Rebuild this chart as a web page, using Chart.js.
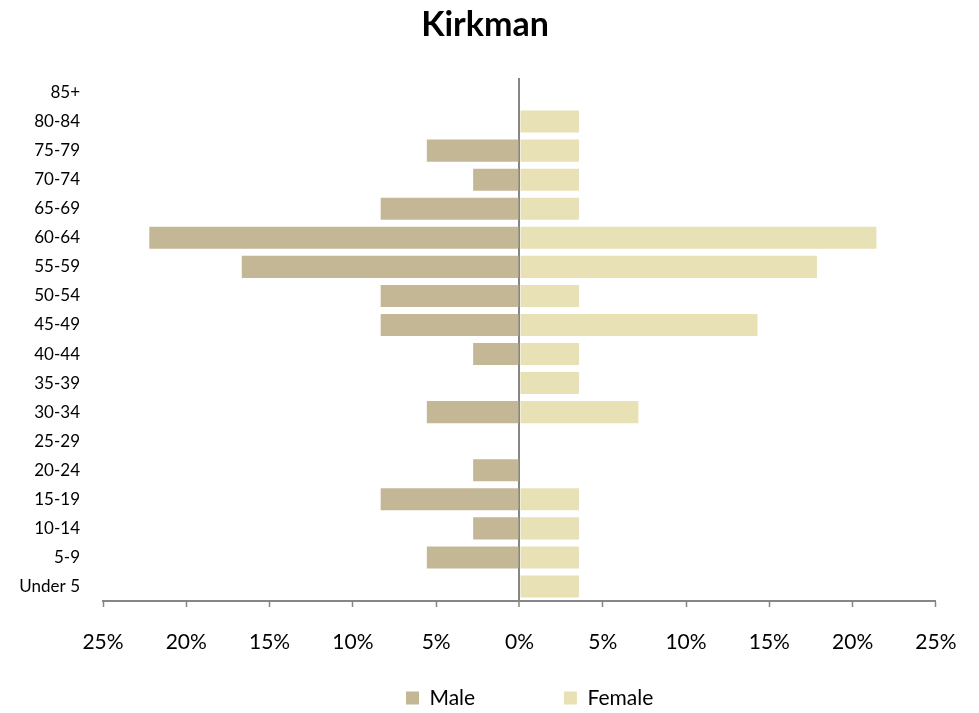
<!DOCTYPE html>
<html>
<head>
<meta charset="utf-8">
<script src="https://cdn.jsdelivr.net/npm/chart.js@4/dist/chart.umd.min.js"></script>
<style>
  html, body { margin: 0; padding: 0; background: #fff; }
  #wrap { width: 979px; height: 713px; }
</style>
</head>
<body>
<div id="wrap"><canvas id="c"></canvas></div>
<script>
const ageGroups = ['85+', '80-84', '75-79', '70-74', '65-69', '60-64', '55-59', '50-54', '45-49', '40-44', '35-39', '30-34', '25-29', '20-24', '15-19', '10-14', '5-9', 'Under 5'];
const malePercent = [0, 0, 5.56, 2.78, 8.33, 22.22, 16.67, 8.33, 8.33, 2.78, 0, 5.56, 0, 2.78, 8.33, 2.78, 5.56, 0];
const femalePercent = [0, 3.57, 3.57, 3.57, 3.57, 21.43, 17.86, 3.57, 14.29, 3.57, 3.57, 7.14, 0, 0, 3.57, 3.57, 3.57, 3.57];
const xTicks = [-25, -20, -15, -10, -5, 0, 5, 10, 15, 20, 25];
const seriesNames = ['Male', 'Female'];
const seriesColors = ['#C4B796', '#E8E1B6'];

const FONT = "Lato, 'Open Sans', sans-serif";

// shift title / legend horizontally to match the reference placement
const placementTweak = {
  id: 'placementTweak',
  afterLayout(chart) {
    const t = chart.titleBlock;
    if (t) { t.left = 0; t.right = 970; t.width = 970; }
    const l = chart.legend;
    if (l) { const w = l.right - l.left; l.left = 396; l.right = 396 + w; }
  }
};

new Chart(document.getElementById('c'), {
  type: 'bar',
  data: {
    labels: ageGroups,
    datasets: [
      { label: seriesNames[0], data: malePercent.map(v => -v), backgroundColor: seriesColors[0], borderWidth: 0 },
      { label: seriesNames[1], data: femalePercent, backgroundColor: seriesColors[1], borderWidth: 0 }
    ]
  },
  plugins: [placementTweak],
  options: {
    indexAxis: 'y',
    responsive: true,
    maintainAspectRatio: false,
    animation: false,
    categoryPercentage: 0.76,
    barPercentage: 1.0,
    layout: { padding: { left: 0, right: 42, top: 0, bottom: -5.5 } },
    plugins: {
      title: {
        display: true,
        text: 'Kirkman',
        color: '#000',
        font: { family: FONT, size: 34, weight: 'bold' },
        padding: { top: 4.6, bottom: 32.6 }
      },
      legend: {
        position: 'bottom',
        align: 'start',
        fullSize: false,
        labels: {
          color: '#000',
          font: { family: FONT, size: 21 },
          boxWidth: 13,
          boxHeight: 13,
          padding: 10,
          generateLabels: (chart) => {
            const items = Chart.defaults.plugins.legend.labels.generateLabels(chart);
            items[0].text = items[0].text + '\u2003\u2003\u2003\u2003\u2003';
            return items;
          }
        }
      },
      tooltip: { enabled: false }
    },
    scales: {
      x: {
        stacked: true,
        min: -25,
        max: 25,
        afterBuildTicks: (scale) => { scale.ticks = xTicks.map(v => ({ value: v })); },
        ticks: {
          color: '#000',
          font: { family: FONT, size: 21 },
          padding: 22.5,
          maxRotation: 0,
          callback: (v) => Math.abs(v) + '%'
        },
        grid: {
          drawOnChartArea: true,
          drawTicks: true,
          tickLength: 6,
          color: (ctx) => (ctx.tick && ctx.tick.value === 0 ? '#868686' : 'rgba(0,0,0,0)'),
          lineWidth: (ctx) => (ctx.tick && ctx.tick.value === 0 ? 2 : 1),
          tickColor: '#868686',
          tickWidth: 1.5
        },
        border: { display: true, color: '#868686', width: 2 },
        afterFit: (scale) => { scale.height = 76.5; }
      },
      y: {
        stacked: true,
        ticks: {
          color: '#000',
          font: { family: FONT, size: 17 },
          padding: 23
        },
        grid: { display: false, drawTicks: false },
        border: { display: false },
        afterFit: (scale) => { scale.width = 103; }
      }
    }
  }
});
</script>
</body>
</html>
